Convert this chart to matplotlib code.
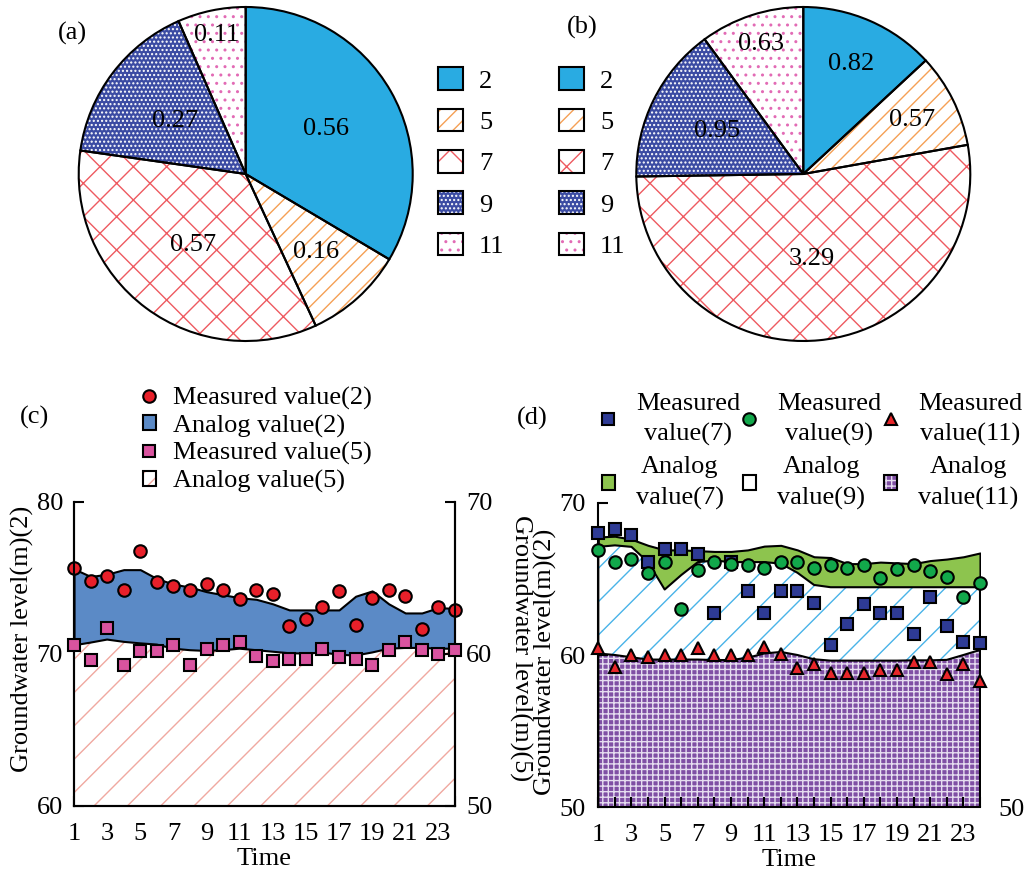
import numpy as np
import matplotlib
matplotlib.use("Agg")
import matplotlib.pyplot as plt
from matplotlib.patches import Patch
from matplotlib.lines import Line2D

plt.rcParams['font.family'] = ['Liberation Serif', 'DejaVu Serif']
plt.rcParams['font.size'] = 19
plt.rcParams['hatch.linewidth'] = 1.0
plt.rcParams['axes.linewidth'] = 1.5

# ---- data ----
pie_labels = ['2', '5', '7', '9', '11']
pie_a = [0.56, 0.16, 0.57, 0.27, 0.11]
pie_b = [0.82, 0.57, 3.29, 0.95, 0.63]

t = np.arange(1, 25)
meas2 = [75.68, 74.8, 75.1, 74.2, 76.8, 74.74, 74.47, 74.2, 74.6, 74.24, 73.6, 74.2,
         73.97, 71.85, 72.33, 73.1, 74.15, 71.93, 73.7, 74.2, 73.8, 71.67, 73.1, 72.87]
analog2 = [75.6, 75.1, 75.25, 75.55, 75.55, 74.96, 74.6, 74.4, 74.1, 73.9, 73.7, 73.6,
           73.3, 72.9, 72.9, 72.9, 72.9, 73.8, 74.15, 73.3, 72.7, 72.7, 73.05, 73.0]
meas5 = [60.57, 59.6, 61.7, 59.26, 60.2, 60.2, 60.62, 59.26, 60.35, 60.57, 60.8, 59.9,
         59.52, 59.7, 59.7, 60.35, 59.8, 59.65, 59.3, 60.25, 60.8, 60.25, 59.98, 60.25]
analog5 = [60.57, 60.75, 60.95, 60.8, 60.7, 60.62, 60.35, 60.25, 60.2, 60.25, 60.35, 60.25,
           60.15, 60.05, 60.03, 60.1, 59.95, 59.9, 60.1, 60.35, 60.4, 60.4, 60.35, 60.35]

meas7 = [67.99, 68.3, 67.88, 66.13, 66.96, 66.96, 66.63, 62.74, 66.13, 64.22, 62.74, 64.22,
         64.22, 63.4, 60.66, 62.03, 63.35, 62.78, 62.78, 61.38, 63.83, 61.9, 60.88, 60.81]
meas9 = [66.9, 66.13, 66.28, 65.36, 66.13, 63.05, 65.58, 66.13, 65.97, 65.9, 65.69, 66.13,
         66.13, 65.69, 65.9, 65.69, 65.9, 65.04, 65.65, 65.9, 65.54, 65.1, 63.79, 64.75]
meas11 = [60.44, 59.19, 60.0, 59.85, 60.0, 60.0, 60.44, 60.0, 60.0, 60.0, 60.5, 60.07,
          59.13, 59.39, 58.84, 58.84, 58.84, 59.0, 59.0, 59.56, 59.56, 58.75, 59.41, 58.31]
analog7 = [67.75, 67.8, 67.6, 67.2, 66.9, 66.9, 66.85, 66.8, 66.8, 66.9, 67.15, 67.2,
           66.9, 66.45, 66.4, 66.0, 66.0, 66.1, 66.05, 66.0, 66.2, 66.3, 66.45, 66.7]
analog9 = [67.1, 67.2, 67.1, 66.1, 64.3, 65.25, 66.1, 66.2, 66.1, 66.1, 66.1, 66.0,
           65.4, 64.6, 64.45, 64.45, 64.45, 64.45, 64.45, 64.45, 64.45, 64.45, 64.45, 64.45]
analog11 = [60.1, 60.0, 59.85, 59.7, 59.7, 59.7, 59.7, 59.67, 59.67, 59.82, 60.1, 60.2,
            60.0, 59.72, 59.63, 59.63, 59.63, 59.63, 59.63, 59.65, 59.65, 59.68, 60.0, 60.33]

# ---- styles ----
pie_face = ['#29ABE2', 'white', 'white', '#3B4BA3', 'white']
pie_hatch = [None, '//', 'x', '....', '..']
pie_hcol = ['#29ABE2', '#F5A055', '#EE5A60', 'white', '#E26BB5']
label_r_a = [0.55, 0.63, 0.53, 0.53, 0.85]
label_r_b = [0.72, 0.73, 0.51, 0.58, 0.82]

fig = plt.figure(figsize=(10.32, 8.75), dpi=100)


def draw_pie(rect, vals, label_r):
    ax = fig.add_axes(rect)
    wedges, _ = ax.pie(vals, startangle=90, counterclock=False, colors=pie_face,
                       wedgeprops=dict(linewidth=0))
    for w, h, hc in zip(wedges, pie_hatch, pie_hcol):
        if h:
            w.set_hatch(h)
            w.set_edgecolor(hc)
    ax.pie(vals, startangle=90, counterclock=False,
           wedgeprops=dict(fill=False, edgecolor='black', linewidth=1.5))
    for w, v, r in zip(wedges, vals, label_r):
        ang = np.deg2rad((w.theta1 + w.theta2) / 2)
        ax.text(r * np.cos(ang), r * np.sin(ang), f'{v:.2f}', ha='center', va='center')
    ax.set_xlim(-1.02, 1.02)
    ax.set_ylim(-1.02, 1.02)
    return ax


R = 167 * 1.02
draw_pie([(245.7 - R) / 1032, 1 - (174 + R) / 875, 2 * R / 1032, 2 * R / 875], pie_a, label_r_a)
draw_pie([(803.3 - R) / 1032, 1 - (174 + R) / 875, 2 * R / 1032, 2 * R / 875], pie_b, label_r_b)

pie_handles = [(Patch(facecolor=f, hatch=h, edgecolor=hc, linewidth=0),
                Patch(facecolor='none', edgecolor='black', linewidth=1.5))
               for f, h, hc in zip(pie_face, pie_hatch, pie_hcol)]
for x0 in [0.4244, 0.5417]:
    fig.legend(pie_handles, pie_labels, loc='upper left', bbox_to_anchor=(x0, 0.923),
               frameon=False, borderpad=0, borderaxespad=0, handlelength=0.95,
               handleheight=0.95, labelspacing=0.6, handletextpad=0.6)

fig.text(0.056, 1 - 33 / 875, '(a)', va='center')
fig.text(0.549, 1 - 27 / 875, '(b)', va='center')
fig.text(0.0194, 1 - 417 / 875, '(c)', va='center')
fig.text(0.501, 1 - 418 / 875, '(d)', va='center')

# ---- (c) ----
ax_c = fig.add_axes([74 / 1032, 1 - 806 / 875, 381 / 1032, 304 / 875])
ax_c2 = ax_c.twinx()
ax_c.fill_between(t, 60, analog2, facecolor='#5B8AC6', edgecolor='black', linewidth=1.5, zorder=1)
ax_c.plot(t, meas2, 'o', ms=9, mfc='#E8202A', mec='black', mew=1.5, clip_on=False, zorder=3)
ax_c2.fill_between(t, 50, analog5, facecolor='white', hatch='/', edgecolor='#F0A8A0', linewidth=0, zorder=1)
ax_c2.fill_between(t, 50, analog5, facecolor='none', edgecolor='black', linewidth=1.5, zorder=2)
ax_c2.plot(t, meas5, 's', ms=9, mfc='#D9539F', mec='black', mew=1.5, clip_on=False, zorder=3)

ax_c.set_xlim(1, 24)
ax_c.set_ylim(60, 80)
ax_c2.set_ylim(50, 70)
ax_c.set_yticks([60, 70, 80])
ax_c2.set_yticks([50, 60, 70])
ax_c.set_xticks(t)
ax_c.set_xticklabels([str(i) if i % 2 else '' for i in t])
for a in (ax_c, ax_c2):
    a.spines['top'].set_visible(False)
ax_c.tick_params(axis='x', direction='in', length=7, width=1.5, pad=12)
ax_c.tick_params(axis='y', direction='in', length=7, width=1.5, pad=8)
ax_c2.tick_params(axis='y', direction='in', length=7, width=1.5, pad=8)
ax_c.set_xlabel('Time', labelpad=2.5)
fig.text(22 / 1032, 1 - 639 / 875, 'Groundwater level(m)(2)', rotation=90, ha='center', va='center')
fig.text(521 / 1032, 1 - 648 / 875, 'Groundwater level(m)(5)', rotation=270, ha='center', va='center')

handles_c = [Line2D([], [], ls='', marker='o', ms=9, mfc='#E8202A', mec='black', mew=1.5),
             Patch(facecolor='#5B8AC6', edgecolor='black', linewidth=1.5),
             Line2D([], [], ls='', marker='s', ms=9, mfc='#D9539F', mec='black', mew=1.5),
             (Patch(facecolor='white', hatch='//', edgecolor='#F0A8A0', linewidth=0),
              Patch(facecolor='none', edgecolor='black', linewidth=1.5))]
labels_c = ['Measured value(2)', 'Analog value(2)', 'Measured value(5)', 'Analog value(5)']
fig.legend(handles_c, labels_c, loc='upper left', bbox_to_anchor=(0.1382, 0.5577),
           frameon=False, borderpad=0, borderaxespad=0, handlelength=0.5, handleheight=0.5,
           labelspacing=0.17, handletextpad=0.65)

# ---- (d) ----
ax_d = fig.add_axes([598.3 / 1032, 1 - 807.3 / 875, 381.7 / 1032, 304.6 / 875])
ax_d.fill_between(t, 50, analog7, facecolor='#8DC44E', edgecolor='black', linewidth=1.5, zorder=1)
ax_d.fill_between(t, 50, analog9, facecolor='white', hatch='/', edgecolor='#49B3E8', linewidth=0, zorder=1.1)
ax_d.fill_between(t, 50, analog9, facecolor='none', edgecolor='black', linewidth=1.5, zorder=1.2)
ax_d.fill_between(t, 50, analog11, facecolor='#7F4FA4', hatch='+++', edgecolor='#E6DDF0', linewidth=0, zorder=1.3)
ax_d.fill_between(t, 50, analog11, facecolor='none', edgecolor='black', linewidth=1.5, zorder=1.4)
ax_d.plot(t, meas7, 's', ms=9, mfc='#2E3B95', mec='black', mew=1.5, clip_on=False, zorder=3)
ax_d.plot(t, meas9, 'o', ms=9, mfc='#12A84B', mec='black', mew=1.5, clip_on=False, zorder=3.1)
ax_d.plot(t, meas11, '^', ms=9, mfc='#E8262A', mec='black', mew=1.5, clip_on=False, zorder=3.2)

ax_d.set_xlim(1, 24)
ax_d.set_ylim(50, 70)
ax_d.set_yticks([50, 60, 70])
ax_d.set_xticks(t)
ax_d.set_xticklabels([str(i) if i % 2 else '' for i in t])
ax_d.spines['top'].set_visible(False)
ax_d.spines['right'].set_visible(False)
ax_d.tick_params(axis='x', direction='in', length=7, width=1.5, pad=12)
ax_d.tick_params(axis='y', direction='in', length=7, width=1.5, pad=9)
ax_d.set_xlabel('Time', labelpad=2.5)
ax_d2 = ax_d.twinx()
ax_d2.set_ylim(50, 70)
ax_d2.set_yticks([50])
ax_d2.tick_params(axis='y', length=0, pad=13)
for s in ax_d2.spines.values():
    s.set_visible(False)
fig.text(545 / 1032, 1 - 662 / 875, 'Groundwater level(m)(2)', rotation=90, ha='center', va='center')

handles_d = [Line2D([], [], ls='', marker='s', ms=9, mfc='#2E3B95', mec='black', mew=1.5),
             Patch(facecolor='#8DC44E', edgecolor='black', linewidth=1.5),
             Line2D([], [], ls='', marker='o', ms=9, mfc='#12A84B', mec='black', mew=1.5),
             Patch(facecolor='white', edgecolor='black', linewidth=1.5),
             Line2D([], [], ls='', marker='^', ms=9, mfc='#E8262A', mec='black', mew=1.5),
             (Patch(facecolor='#7F4FA4', hatch='+++', edgecolor='#E6DDF0', linewidth=0),
              Patch(facecolor='none', edgecolor='black', linewidth=1.5))]
labels_d = ['Measured\nvalue(7)', 'Analog\nvalue(7)', 'Measured\nvalue(9)', 'Analog\nvalue(9)',
            'Measured\nvalue(11)', 'Analog\nvalue(11)']
leg_d = fig.legend(handles_d, labels_d, ncol=3, loc='upper left', bbox_to_anchor=(0.583, 0.551),
                   frameon=False, borderpad=0, borderaxespad=0, handlelength=0.5, handleheight=0.5,
                   labelspacing=0.4, handletextpad=0.8, columnspacing=0.1)
for txt in leg_d.get_texts():
    txt.set_multialignment('center')
    txt.set_linespacing(1.45)

fig.savefig('out.png', dpi=100)
